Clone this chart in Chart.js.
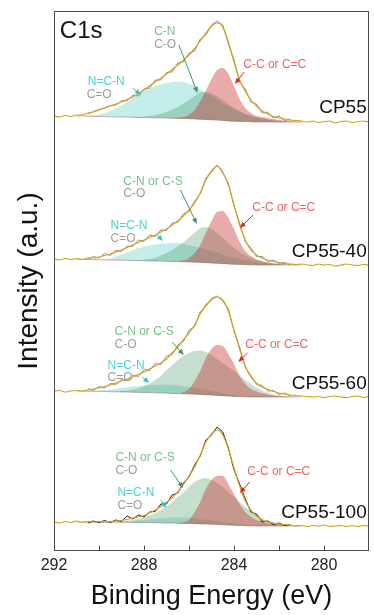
<!DOCTYPE html>
<html>
<head>
<meta charset="utf-8">
<title>C1s XPS</title>
<script src="https://cdn.jsdelivr.net/npm/chart.js@4.4.1/dist/chart.umd.min.js"></script>
<style>
  html, body { margin: 0; padding: 0; background: #fff; }
  #wrap { width: 374px; height: 615px; position: relative; }
</style>
</head>
<body>
<div id="wrap"><canvas id="xps"></canvas></div>
<script>
'use strict';

// ── Rejillas de energía (eV) ───────────────────────────────
const energies = [292, 291.75, 291.5, 291.25, 291, 290.75, 290.5, 290.25, 290, 289.75, 289.5, 289.25, 289, 288.75, 288.5, 288.25, 288, 287.75, 287.5, 287.25, 287, 286.75, 286.5, 286.25, 286, 285.75, 285.5, 285.25, 285, 284.75, 284.5, 284.25, 284, 283.75, 283.5, 283.25, 283, 282.75, 282.5, 282.25, 282, 281.75, 281.5, 281.25, 281, 280.75, 280.5, 280.25, 280, 279.75, 279.5, 279.25, 279, 278.75, 278.5, 278.25, 278];
const rawEnergies = [290.5, 290.25, 290, 289.75, 289.5, 289.25, 289, 288.75, 288.5, 288.25, 288, 287.75, 287.5, 287.25, 287, 286.75, 286.5, 286.25, 286, 285.75, 285.5, 285.25, 285, 284.75, 284.5, 284.25, 284, 283.75, 283.5, 283.25, 283, 282.75, 282.5, 282.25, 282, 281.75, 281.5];
const fitEnergies = [291, 290.75, 290.5, 290.25, 290, 289.75, 289.5, 289.25, 289, 288.75, 288.5, 288.25, 288, 287.75, 287.5, 287.25, 287, 286.75, 286.5, 286.25, 286, 285.75, 285.5, 285.25, 285, 284.75, 284.5, 284.25, 284, 283.75, 283.5, 283.25, 283, 282.75, 282.5, 282.25, 282, 281.75, 281.5, 281.25, 281];

// desplazamiento vertical de cada espectro
const sampleNames = ['CP55', 'CP55-40', 'CP55-60', 'CP55-100'];
const sampleOffsets = [429, 286, 154, 25];

// ── CP55 ──
const envCP55 = [6, 5, 6.5, 5.5, 7, 7, 9, 10, 12, 14, 16, 18, 20, 22.5, 25, 28.5, 32, 36, 40, 44, 48, 52.5, 57, 62, 67, 73.5, 81, 89, 96, 99, 95, 80, 60, 42, 31, 22, 16, 11, 8, 5.5, 4, 3, 2, 1.5, 1, 0, 1, -0.5, 0.5, 1, -1, 0.5, 1, -0.5, 0.5, 1, 0];
const rawCP55 = [8, 10.5, 12.5, 14, 16.5, 17, 21.5, 21, 27, 26, 33, 34, 42, 42, 49.5, 50, 59, 60, 69, 71, 83, 87, 97, 101, 97, 78, 62, 40, 33, 20, 18, 9, 10, 4, 6, 1.5, 3];
const bgCP55 = [6, 6, 5.8, 5.6, 5.5, 5.4, 5.2, 5.1, 5, 4.9, 4.7, 4.6, 4.5, 4.4, 4.2, 4.1, 4, 3.8, 3.6, 3.5, 3.3, 3.1, 2.8, 2.5, 2.2, 1.9, 1.5, 1.1, 0.8, 0.6, 0.4, 0.2, 0, 0, 0, 0, 0, 0, 0, 0, 0];
const ncnCP55 = [0, 0.2, 0.7, 1.2, 2, 3.6, 5.8, 8.4, 11.5, 15, 19, 23, 26.5, 29, 32, 33.5, 35, 36, 37, 36.5, 35, 33, 29.5, 26.5, 24, 20.5, 17.5, 15, 12, 10, 7.5, 6, 5, 3.5, 2.5, 1.5, 1, 0.5, 0.2, 0, 0];
const cnCP55 = [0, 0, 0, 0, 0, 0, 0, 0, 0, 0, 0.3, 0.6, 1.1, 1.8, 2.8, 4.2, 6, 8.7, 11.4, 15, 18.7, 23, 26.7, 27.5, 26.3, 23.6, 20.5, 17, 13.2, 10.4, 7.6, 5.8, 4.5, 3.5, 2.5, 1.5, 1, 0.5, 0.2, 0, 0];
const ccCP55 = [0, 0, 0, 0, 0, 0, 0, 0, 0, 0, 0, 0, 0, 0, 0, 0, 0, 0.3, 0.8, 1.8, 4, 9, 18, 29, 40.5, 50, 52.5, 47, 35, 22.5, 13.5, 8.8, 6, 5, 4, 3, 2, 1.5, 1, 0.5, 0];

// ── CP55-40 ──
const envCP5540 = [6, 5, 6.5, 5.5, 6.5, 5.5, 7, 7, 8, 9.5, 11, 13, 15, 17.5, 20, 22.5, 25, 27.5, 30, 33, 36, 40, 44, 49, 55, 62, 72, 85, 94, 99, 93, 80, 60, 40, 25, 15, 10, 7, 5, 3.5, 2.5, 1.5, 1, 0.5, 1, 0, -0.5, 1, 0, 0.5, -1, 0, 1, 0, -0.5, 0.5, 0];
const rawCP5540 = [6, 8.5, 7, 11.5, 9.5, 14.5, 13.5, 19, 18.5, 25, 23.5, 30, 28.5, 35, 34.5, 42, 42.5, 51, 53.5, 64, 71, 87, 93, 100, 92, 82, 59, 42, 23.5, 17, 8.5, 8.5, 3.5, 5, 1.5, 2.5, 0];
const bgCP5540 = [5.7, 5.6, 5.5, 5.4, 5.3, 5.2, 5, 4.9, 4.8, 4.7, 4.5, 4.4, 4.3, 4.1, 4, 3.9, 3.7, 3.5, 3.4, 3.2, 3, 2.8, 2.6, 2.3, 2, 1.7, 1.3, 1, 0.7, 0.5, 0.3, 0.15, 0, 0, 0, 0, 0, 0, 0, 0, 0];
const ncnCP5540 = [0, 0, 0, 0, 0, 0.5, 1.5, 3.5, 5.8, 8, 10.3, 12.5, 14.2, 15.5, 16.5, 17.3, 17.8, 18.2, 18.5, 17.8, 17, 15.8, 14.4, 13.3, 12, 10.8, 9.2, 7.8, 6.8, 5.8, 4.7, 3.8, 3, 2.2, 1.5, 1, 0.5, 0.3, 0, 0, 0];
const cnCP5540 = [0, 0, 0, 0, 0, 0, 0, 0, 0, 0, 0, 0.5, 1, 2, 3, 5.5, 8.3, 11.5, 15.6, 19.5, 24.5, 29.5, 34.4, 35.7, 34, 30.3, 25.7, 21, 16.3, 12.5, 9.2, 6.8, 5, 3.5, 2.5, 1.5, 1, 0.5, 0.2, 0, 0];
const ccCP5540 = [0, 0, 0, 0, 0, 0, 0, 0, 0, 0, 0, 0, 0, 0, 0, 0, 0, 0.2, 0.6, 1.5, 4, 9.2, 17.4, 29.7, 42, 51.3, 52.7, 46, 35.3, 22.5, 13.7, 8.8, 5.5, 4, 2.5, 1.7, 1, 0.5, 0.2, 0, 0];

// ── CP55-60 ──
const envCP5560 = [6, 6.5, 5, 6, 6.5, 6, 7, 8, 9, 10.5, 12, 14, 16, 18, 20, 22.5, 25, 28, 31, 34, 38, 44, 50, 57, 64, 72, 83, 92, 97, 100, 97, 86, 67, 48, 31, 20, 14, 10, 7.5, 5.5, 4, 3, 2, 1.5, 1, 0.5, 0, 0.5, -0.5, 0.5, 1, 0, -0.5, 0.5, 1, -0.5, 0.5];
const rawCP5560 = [8.5, 6.5, 10.5, 9, 13.5, 12.5, 17.5, 16.5, 22, 20.5, 27.5, 26.5, 33.5, 32.5, 41, 42.5, 52, 55.5, 66.5, 70.5, 85, 90.5, 98.5, 101, 96, 88, 65.5, 50, 29.5, 21.5, 12.5, 11.5, 6, 6.5, 2.5, 4, 1];
const bgCP5560 = [6, 5.9, 5.8, 5.7, 5.6, 5.5, 5.3, 5.2, 5.1, 5, 4.8, 4.7, 4.5, 4.4, 4.2, 4, 3.8, 3.6, 3.4, 3.2, 3, 2.8, 2.5, 2.2, 1.9, 1.6, 1.2, 0.9, 0.6, 0.4, 0.2, 0.1, 0, 0, 0, 0, 0, 0, 0, 0, 0];
const ncnCP5560 = [0, 0.2, 0.5, 0.7, 0.9, 1.5, 2.2, 3, 3.9, 4.7, 5.7, 6.3, 7, 7.4, 7.8, 8.2, 8.5, 8.4, 8.1, 7.6, 7, 6.2, 5.5, 4.8, 4.1, 3.4, 2.8, 2.2, 1.9, 1.4, 1, 0.6, 0.5, 0.3, 0.2, 0, 0, 0, 0, 0, 0];
const cnCP5560 = [0, 0, 0, 0, 0, 0, 0.2, 0.5, 0.9, 1.5, 2.7, 4, 6.5, 8.8, 12.8, 17, 23.2, 28, 33.6, 37.5, 41, 43.2, 44, 42.8, 40.1, 36.4, 32.8, 29.1, 25.4, 21.1, 16.8, 12.9, 9, 6.5, 4, 2.5, 1.5, 1, 0.5, 0.2, 0];
const ccCP5560 = [0, 0, 0, 0, 0, 0, 0, 0, 0, 0, 0, 0, 0, 0, 0, 0, 0, 0, 0.3, 1.5, 5, 13.2, 23.5, 36.8, 46.1, 50.4, 49.8, 42.1, 32.4, 20.6, 12.8, 7.9, 5.5, 3.8, 2.5, 1.6, 1, 0.5, 0.2, 0, 0];

// ── CP55-100 ──
const envCP55100 = [4, 3, 4.5, 3.5, 5, 3.5, 4.5, 4, 4.5, 4, 4.5, 5, 5.5, 6.5, 8, 9, 10.5, 13, 16, 19.5, 23.5, 28.5, 34, 41.5, 50, 59, 71, 84, 92, 96, 91, 77, 58, 40, 25, 16, 10, 6, 4, 3, 2, 1.5, 1, 0, 0.5, -0.5, 0.5, 0, 1, -0.5, 0, 0.5, -0.5, 0.5, -0.5, 0.5, 0];
const rawCP55100 = [3, 5, 3.5, 5.5, 3.5, 6, 4.5, 10, 7, 11, 9, 14, 14.5, 22, 22, 31, 33, 43, 49, 61, 70, 86, 91, 99, 94, 78, 56, 42, 27, 14, 12, 4, 5, 1.5, 3, 0.5, 1.5];
const bgCP55100 = [4, 4, 4, 4, 4, 3.9, 3.9, 3.8, 3.8, 3.7, 3.6, 3.6, 3.5, 3.4, 3.3, 3.2, 3, 2.9, 2.8, 2.6, 2.5, 2.3, 2.1, 1.9, 1.7, 1.5, 1.2, 1, 0.7, 0.5, 0.3, 0.15, 0, 0, 0, 0, 0, 0, 0, 0, 0];
const ncnCP55100 = [0, 0, 0, 0, 0, 0.2, 0.4, 0.6, 0.7, 1, 1.4, 1.9, 2.5, 3.1, 3.7, 4.3, 5, 5.5, 5.9, 5.9, 5.8, 5.3, 4.9, 4.3, 3.8, 3.2, 2.8, 2.2, 1.8, 1.4, 1, 0.7, 0.5, 0.3, 0.2, 0, 0, 0, 0, 0, 0];
const cnCP55100 = [0, 0, 0, 0, 0, 0, 0, 0.3, 0.7, 1.5, 2.4, 3.5, 5, 7, 9.7, 12.8, 16, 20.5, 26.2, 31, 36.5, 41.7, 44.9, 46.1, 44.3, 41.5, 37.8, 33, 28.3, 23.5, 18.7, 14.3, 11, 7.8, 5, 3.3, 2, 1.2, 0.5, 0.2, 0];
const ccCP55100 = [0, 0, 0, 0, 0, 0, 0, 0, 0, 0, 0, 0, 0, 0, 0, 0, 0, 0, 0.2, 1.2, 3.5, 11.7, 21.9, 35.1, 44.3, 48.5, 49, 41, 31.3, 21.5, 13.7, 8.9, 6, 4.3, 3, 2.2, 1.5, 1, 0.5, 0.2, 0];

const envSeries = [envCP55, envCP5540, envCP5560, envCP55100];
const rawSeries = [rawCP55, rawCP5540, rawCP5560, rawCP55100];
const bgSeries = [bgCP55, bgCP5540, bgCP5560, bgCP55100];
const ncnSeries = [ncnCP55, ncnCP5540, ncnCP5560, ncnCP55100];
const cnSeries = [cnCP55, cnCP5540, cnCP5560, cnCP55100];
const ccSeries = [ccCP55, ccCP5540, ccCP5560, ccCP55100];

// ── Estilos ─────────────────────────────────────────────
const FONT = '"Liberation Sans", Arial, Helvetica, sans-serif';
const COL_ENV = '#d6a21e';
const COL_RAW = ['#8e8e8e', '#8e8e8e', '#8e8e8e', '#1e1e1e'];
const FILL_NCN = 'rgba(90,205,200,0.36)';
const FILL_CN = 'rgba(45,135,80,0.28)';
const FILL_CC = 'rgba(200,45,40,0.4)';
const TXT_CN = '#78bf8c';
const TXT_GREY = '#9d9d9d';
const TXT_NCN = '#45d3d6';
const TXT_CC = '#f06464';

// etiquetas: [texto, energía, intensidad, color, tamaño, alineación]
const annotations = [
    ['C1s', 291.74, 520, '#111', 24, 'left'],
    ['C-N', 287.55, 519, TXT_CN, 12, 'left'],
    ['C-O', 287.55, 506, TXT_GREY, 12, 'left'],
    ['N=C-N', 290.5, 469, TXT_NCN, 12, 'left'],
    ['C=O', 290.55, 456, TXT_GREY, 12, 'left'],
    ['C-C or C=C', 283.59, 486, TXT_CC, 12, 'left'],
    ['C-N or C-S', 288.92, 369, TXT_CN, 12, 'left'],
    ['C-O', 288.92, 357, TXT_GREY, 12, 'left'],
    ['N=C-N', 289.49, 325, TXT_NCN, 12, 'left'],
    ['C=O', 289.49, 312, TXT_GREY, 12, 'left'],
    ['C-C or C=C', 283.19, 343, TXT_CC, 12, 'left'],
    ['C-N or C-S', 289.31, 219, TXT_CN, 12, 'left'],
    ['C-O', 289.31, 206, TXT_GREY, 12, 'left'],
    ['N=C-N', 289.62, 185, TXT_NCN, 12, 'left'],
    ['C=O', 289.62, 173, TXT_GREY, 12, 'left'],
    ['C-C or C=C', 283.5, 206, TXT_CC, 12, 'left'],
    ['C-N or C-S', 289.27, 93, TXT_CN, 12, 'left'],
    ['C-O', 289.27, 80, TXT_GREY, 12, 'left'],
    ['N=C-N', 289.18, 58, TXT_NCN, 12, 'left'],
    ['C=O', 289.18, 45, TXT_GREY, 12, 'left'],
    ['C-C or C=C', 283.41, 79, TXT_CC, 12, 'left'],
    [sampleNames[0], 278.1, 443, '#111', 19, 'right'],
    [sampleNames[1], 278.1, 299, '#111', 19, 'right'],
    [sampleNames[2], 278.1, 167, '#111', 19, 'right'],
    [sampleNames[3], 278.1, 38, '#111', 19, 'right']
];

// flechas: [energía0, int0, energía1, int1, color]
const arrows = [
    [286.45, 506, 285.62, 458, '#3f9a5c'],
    [288.51, 463, 288.14, 456, '#2cc4cc'],
    [283.55, 479, 283.96, 467, '#e02828'],
    [286.38, 361, 285.65, 327, '#3f9a5c'],
    [287.41, 316, 287.16, 310, '#2cc4cc'],
    [283.15, 336, 283.74, 323, '#e02828'],
    [286.75, 209, 286.23, 196, '#3f9a5c'],
    [288.07, 174, 287.77, 168, '#2cc4cc'],
    [283.4, 198, 283.81, 189, '#e02828'],
    [286.82, 81, 286.26, 63, '#3f9a5c'],
    [287.26, 51, 287.01, 43, '#2cc4cc'],
    [283.3, 69, 283.74, 58, '#e02828']
];

// ── Construcción de datasets ─────────────────────────────
function puntos(xs, ys, base, extra) {
    return xs.map((x, i) => ({ x: x, y: ys[i] + base + (extra ? extra[i] : 0) }));
}

const datasets = [];
sampleOffsets.forEach((off, s) => {
    const bg = bgSeries[s];
    datasets.push({
        label: sampleNames[s] + ' fondo',
        data: puntos(fitEnergies, bg, off),
        borderColor: 'rgba(150,60,55,0.55)', borderWidth: 0.8,
        pointRadius: 0, fill: false, cubicInterpolationMode: 'monotone', order: 6
    });
    [[ncnSeries, FILL_NCN, '-1', 5], [cnSeries, FILL_CN, '-2', 4], [ccSeries, FILL_CC, '-3', 3]].forEach(([serie, color, destino, orden]) => {
        datasets.push({
            data: puntos(fitEnergies, serie[s], off, bg),
            borderColor: 'rgba(0,0,0,0)', borderWidth: 0,
            backgroundColor: color, fill: destino,
            pointRadius: 0, cubicInterpolationMode: 'monotone', order: orden
        });
    });
    datasets.push({
        data: puntos(rawEnergies, rawSeries[s], off),
        borderColor: COL_RAW[s], borderWidth: 1,
        pointRadius: 0, fill: false, tension: 0, order: 2
    });
    datasets.push({
        data: puntos(energies, envSeries[s], off),
        borderColor: COL_ENV, borderWidth: 1.2,
        pointRadius: 0, fill: false, cubicInterpolationMode: 'monotone', order: 1
    });
});

// marco completo y marcas interiores del eje x
const marcoPlugin = {
    id: 'marco',
    afterDatasetsDraw(chart) {
        const { ctx, chartArea: a, scales: { x } } = chart;
        const l = Math.round(a.left) + 0.5, r = Math.round(a.right) - 0.5;
        const t = Math.round(a.top) + 0.5, b = Math.round(a.bottom) - 0.5;
        ctx.save();
        ctx.strokeStyle = '#4a4a4a';
        ctx.lineWidth = 1;
        ctx.strokeRect(l, t, r - l, b - t);
        x.ticks.forEach(tk => {
            const px = Math.round(x.getPixelForValue(tk.value)) + 0.5;
            if (px <= l + 2 || px >= r - 2) return;
            ctx.beginPath();
            ctx.moveTo(px, b);
            ctx.lineTo(px, b - 5);
            ctx.stroke();
        });
        ctx.restore();
    }
};

// textos y flechas de asignación
const notasPlugin = {
    id: 'notas',
    afterDatasetsDraw(chart) {
        const { ctx, scales: { x, y } } = chart;
        ctx.save();
        arrows.forEach(([e0, v0, e1, v1, color]) => {
            const x0 = x.getPixelForValue(e0), y0 = y.getPixelForValue(v0);
            const x1 = x.getPixelForValue(e1), y1 = y.getPixelForValue(v1);
            const ang = Math.atan2(y1 - y0, x1 - x0);
            ctx.strokeStyle = color;
            ctx.fillStyle = color;
            ctx.lineWidth = 1;
            ctx.beginPath();
            ctx.moveTo(x0, y0);
            ctx.lineTo(x1 - 3 * Math.cos(ang), y1 - 3 * Math.sin(ang));
            ctx.stroke();
            ctx.beginPath();
            ctx.moveTo(x1, y1);
            ctx.lineTo(x1 - 6 * Math.cos(ang) + 2.5 * Math.sin(ang), y1 - 6 * Math.sin(ang) - 2.5 * Math.cos(ang));
            ctx.lineTo(x1 - 6 * Math.cos(ang) - 2.5 * Math.sin(ang), y1 - 6 * Math.sin(ang) + 2.5 * Math.cos(ang));
            ctx.closePath();
            ctx.fill();
        });
        ctx.textBaseline = 'middle';
        annotations.forEach(([texto, e, v, color, size, align]) => {
            ctx.font = size + 'px ' + FONT;
            ctx.fillStyle = color;
            ctx.textAlign = align;
            ctx.fillText(texto, x.getPixelForValue(e), y.getPixelForValue(v));
        });
        ctx.restore();
    }
};

new Chart(document.getElementById('xps').getContext('2d'), {
    type: 'line',
    data: { datasets: datasets },
    options: {
        responsive: true,
        maintainAspectRatio: false,
        animation: false,
        devicePixelRatio: 1,
        layout: { padding: { top: 11, right: 2, left: 0, bottom: 0 } },
        plugins: {
            legend: { display: false },
            tooltip: { enabled: false }
        },
        scales: {
            x: {
                type: 'linear',
                reverse: true,
                min: 278,
                max: 292,
                afterFit: s => { s.height = 64; },
                grid: { display: false, drawTicks: false },
                border: { display: false },
                ticks: {
                    stepSize: 2,
                    padding: 5,
                    color: '#222',
                    font: { family: FONT, size: 16 },
                    maxRotation: 0,
                    autoSkip: false,
                    callback: v => (v % 4 === 0 ? String(v) : '')
                },
                title: {
                    display: true,
                    text: 'Binding Energy (eV)',
                    color: '#111',
                    font: { family: FONT, size: 27 },
                    padding: { top: 0, bottom: 2 }
                }
            },
            y: {
                type: 'linear',
                min: 0,
                max: 540,
                afterFit: s => { s.width = 54; },
                grid: { display: false, drawTicks: false },
                border: { display: false },
                ticks: { display: false },
                title: {
                    display: true,
                    text: 'Intensity (a.u.)',
                    color: '#111',
                    font: { family: FONT, size: 28 },
                    padding: { top: 12, bottom: 0 }
                }
            }
        }
    },
    plugins: [marcoPlugin, notasPlugin]
});
</script>
</body>
</html>
